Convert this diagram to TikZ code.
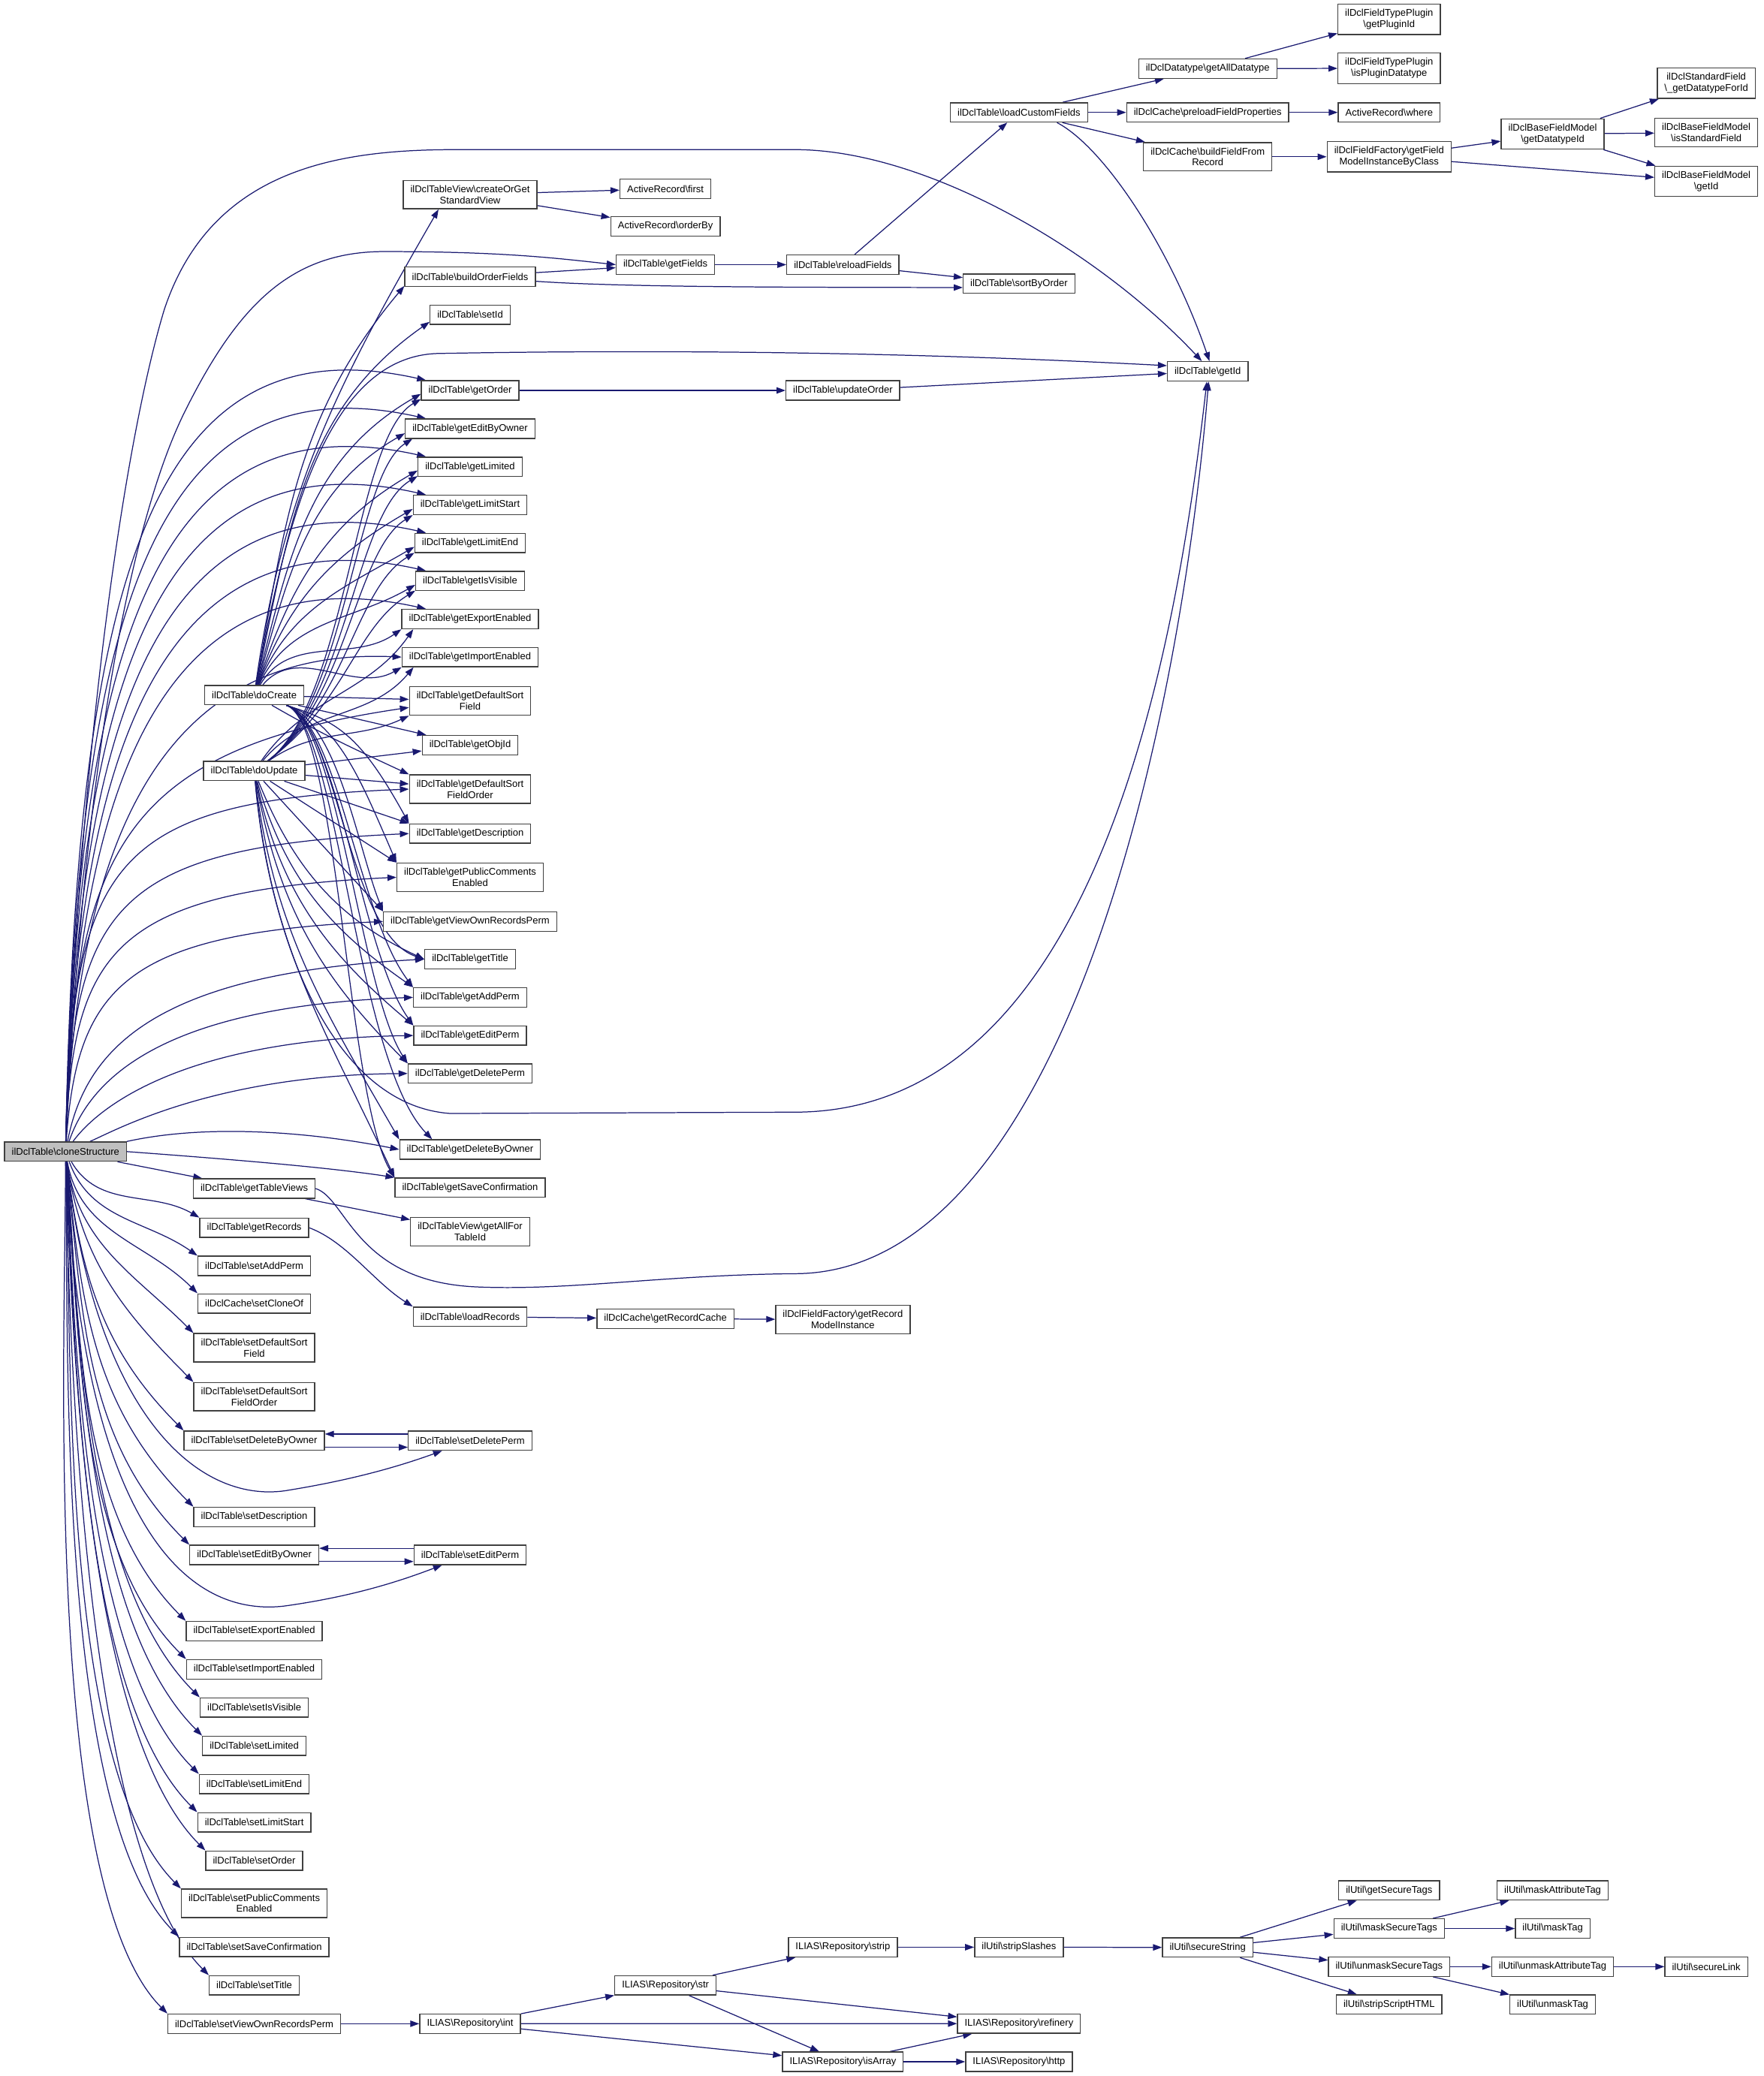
\documentclass[tikz,border=0pt]{standalone}
\usepackage{fontspec}
\setmainfont{Liberation Sans}
\usepackage{tikz}
\usetikzlibrary{arrows.meta, backgrounds}
\definecolor{edgeblue}{RGB}{25,25,112}
\definecolor{rootgray}{RGB}{191,191,191}
\newcommand{\bsl}{\textbackslash}

\begin{document}
\begin{tikzpicture}[
    x=0.05cm, y=-0.05cm,  % one unit = one pixel of the graph, y runs down
    >={Triangle[length=0.34cm, width=0.24cm]},
    func/.style={
      draw=black!75,
      fill=white,
      line width=1.1pt,
      align=center,
      font=\fontsize{10.5}{12}\selectfont,
      inner xsep=0.27cm,
      inner ysep=0.19cm,
      minimum height=0.73cm
    },
    root/.style={func, fill=rootgray},
    call/.style={->, draw=edgeblue, line width=1pt}
]
\useasboundingbox (0,0) rectangle (1332,1568);

\node[root] (clone) at (49.5,869.8) {ilDclTable\bsl cloneStructure};

% second column
\node[func] (doCreate) at (192,525) {ilDclTable\bsl doCreate};
\node[func] (doUpdate) at (192,582.3) {ilDclTable\bsl doUpdate};
\node[func] (getTableViews) at (192,897.7) {ilDclTable\bsl getTableViews};
\node[func] (getRecords) at (192,927.3) {ilDclTable\bsl getRecords};
\node[func] (setAddPerm) at (192,956.1) {ilDclTable\bsl setAddPerm};
\node[func] (setCloneOf) at (192,984.5) {ilDclCache\bsl setCloneOf};
\node[func] (setSortField) at (192,1017.9) {ilDclTable\bsl setDefaultSort\\Field};
\node[func] (setSortOrder) at (192,1054.9) {ilDclTable\bsl setDefaultSort\\FieldOrder};
\node[func] (setDeleteByOwner) at (192,1088.1) {ilDclTable\bsl setDeleteByOwner};
\node[func] (setDescr) at (192,1145.7) {ilDclTable\bsl setDescription};
\node[func] (setEditByOwner) at (192,1174.4) {ilDclTable\bsl setEditByOwner};
\node[func] (setExport) at (192,1231.9) {ilDclTable\bsl setExportEnabled};
\node[func] (setImport) at (192,1260.8) {ilDclTable\bsl setImportEnabled};
\node[func] (setIsVisible) at (192,1289.7) {ilDclTable\bsl setIsVisible};
\node[func] (setLimited) at (192,1318.6) {ilDclTable\bsl setLimited};
\node[func] (setLimitEnd) at (192,1347.5) {ilDclTable\bsl setLimitEnd};
\node[func] (setLimitStart) at (192,1376.4) {ilDclTable\bsl setLimitStart};
\node[func] (setOrder) at (192,1405.3) {ilDclTable\bsl setOrder};
\node[func] (setComments) at (192,1437.5) {ilDclTable\bsl setPublicComments\\Enabled};
\node[func] (setSaveConf) at (192,1470.5) {ilDclTable\bsl setSaveConfirmation};
\node[func] (setTitle) at (192,1499.5) {ilDclTable\bsl setTitle};
\node[func] (setViewPerm) at (192,1528.5) {ilDclTable\bsl setViewOwnRecordsPerm};

% third column
\node[func] (createView) at (355,147) {ilDclTableView\bsl createOrGet\\StandardView};
\node[func] (buildOrder) at (355,209) {ilDclTable\bsl buildOrderFields};
\node[func] (setId) at (355,237.7) {ilDclTable\bsl setId};
\node[func] (getOrder) at (355,294.9) {ilDclTable\bsl getOrder};
\node[func] (getEditByOwner) at (355,323.8) {ilDclTable\bsl getEditByOwner};
\node[func] (getLimited) at (355,352.6) {ilDclTable\bsl getLimited};
\node[func] (getLimitStart) at (355,381.4) {ilDclTable\bsl getLimitStart};
\node[func] (getLimitEnd) at (355,410.1) {ilDclTable\bsl getLimitEnd};
\node[func] (getIsVisible) at (355,438.8) {ilDclTable\bsl getIsVisible};
\node[func] (getExport) at (355,467.6) {ilDclTable\bsl getExportEnabled};
\node[func] (getImport) at (355,496.3) {ilDclTable\bsl getImportEnabled};
\node[func] (getSortField) at (355,529.5) {ilDclTable\bsl getDefaultSort\\Field};
\node[func] (getObjId) at (355,562.8) {ilDclTable\bsl getObjId};
\node[func] (getSortOrder) at (355,596) {ilDclTable\bsl getDefaultSort\\FieldOrder};
\node[func] (getDescr) at (355,629.6) {ilDclTable\bsl getDescription};
\node[func] (getComments) at (355,662.6) {ilDclTable\bsl getPublicComments\\Enabled};
\node[func] (getViewPerm) at (355,696) {ilDclTable\bsl getViewOwnRecordsPerm};
\node[func] (getTitle) at (355,724.5) {ilDclTable\bsl getTitle};
\node[func] (getAddPerm) at (355,753.3) {ilDclTable\bsl getAddPerm};
\node[func] (getEditPerm) at (355,782.1) {ilDclTable\bsl getEditPerm};
\node[func] (getDeletePerm) at (355,810.8) {ilDclTable\bsl getDeletePerm};
\node[func] (getDeleteByOwner) at (355,868.2) {ilDclTable\bsl getDeleteByOwner};
\node[func] (getSaveConf) at (355,897) {ilDclTable\bsl getSaveConfirmation};
\node[func] (getAllFor) at (355,930.2) {ilDclTableView\bsl getAllFor\\TableId};
\node[func] (loadRecords) at (355,994.5) {ilDclTable\bsl loadRecords};
\node[func] (setDeletePerm) at (355,1088.1) {ilDclTable\bsl setDeletePerm};
\node[func] (setEditPerm) at (355,1174.4) {ilDclTable\bsl setEditPerm};
\node[func] (repoInt) at (355,1528.5) {ILIAS\bsl Repository\bsl int};

% further columns
\node[func] (arFirst) at (502.5,142.6) {ActiveRecord\bsl first};
\node[func] (arOrderBy) at (502.5,171) {ActiveRecord\bsl orderBy};
\node[func] (getFields) at (502.5,199.9) {ilDclTable\bsl getFields};
\node[func] (getRecordCache) at (502.5,996) {ilDclCache\bsl getRecordCache};
\node[func] (repoStr) at (502.5,1499.5) {ILIAS\bsl Repository\bsl str};

\node[func] (reloadFields) at (636.5,199.9) {ilDclTable\bsl reloadFields};
\node[func] (updateOrder) at (636.5,294.9) {ilDclTable\bsl updateOrder};
\node[func] (getRecordModel) at (636.5,996.7) {ilDclFieldFactory\bsl getRecord\\ModelInstance};
\node[func] (repoStrip) at (636.5,1470.7) {ILIAS\bsl Repository\bsl strip};
\node[func] (repoIsArray) at (636.5,1557.2) {ILIAS\bsl Repository\bsl isArray};

\node[func] (loadCustom) at (769.5,84.9) {ilDclTable\bsl loadCustomFields};
\node[func] (sortByOrder) at (769.5,214.2) {ilDclTable\bsl sortByOrder};
\node[func] (stripSlashes) at (769.5,1470.7) {ilUtil\bsl stripSlashes};
\node[func] (repoRefinery) at (769.5,1528.4) {ILIAS\bsl Repository\bsl refinery};
\node[func] (repoHttp) at (769.5,1557.2) {ILIAS\bsl Repository\bsl http};

\node[func] (getAllDatatype) at (912,51.8) {ilDclDatatype\bsl getAllDatatype};
\node[func] (preloadProps) at (912,84.9) {ilDclCache\bsl preloadFieldProperties};
\node[func] (buildField) at (912,118.4) {ilDclCache\bsl buildFieldFrom\\Record};
\node[func] (getId) at (912,280.5) {ilDclTable\bsl getId};
\node[func] (secureString) at (912,1470.9) {ilUtil\bsl secureString};

\node[func] (getPluginId) at (1049,14.6) {ilDclFieldTypePlugin\\\bsl getPluginId};
\node[func] (isPluginDatatype) at (1049,51.6) {ilDclFieldTypePlugin\\\bsl isPluginDatatype};
\node[func] (arWhere) at (1049,84.9) {ActiveRecord\bsl where};
\node[func] (getFieldModel) at (1049,118.4) {ilDclFieldFactory\bsl getField\\ModelInstanceByClass};
\node[func] (getSecureTags) at (1049,1427.8) {ilUtil\bsl getSecureTags};
\node[func] (maskSecureTags) at (1049,1456.6) {ilUtil\bsl maskSecureTags};
\node[func] (unmaskSecureTags) at (1049,1485.4) {ilUtil\bsl unmaskSecureTags};
\node[func] (stripScriptHTML) at (1049,1514) {ilUtil\bsl stripScriptHTML};

\node[func] (getDatatypeId) at (1172.5,101.2) {ilDclBaseFieldModel\\\bsl getDatatypeId};
\node[func] (maskAttributeTag) at (1172.5,1427.8) {ilUtil\bsl maskAttributeTag};
\node[func] (maskTag) at (1172.5,1456.6) {ilUtil\bsl maskTag};
\node[func] (unmaskAttributeTag) at (1172.5,1485.4) {ilUtil\bsl unmaskAttributeTag};
\node[func] (unmaskTag) at (1172.5,1514) {ilUtil\bsl unmaskTag};

\node[func] (getDatatypeForId) at (1288.5,62.9) {ilDclStandardField\\\bsl\_getDatatypeForId};
\node[func] (isStandardField) at (1288.5,100.2) {ilDclBaseFieldModel\\\bsl isStandardField};
\node[func] (baseGetId) at (1288.5,137) {ilDclBaseFieldModel\\\bsl getId};
\node[func] (secureLink) at (1288.5,1485.4) {ilUtil\bsl secureLink};

\begin{scope}[on background layer]
% calls made by cloneStructure
\draw[call] (clone) .. controls (60,560) and (95,330) .. (124,234) .. controls (160,125) and (260,113) .. (345,113) -- (600,113) .. controls (700,113) and (830,190) .. (getId.120);
\draw[call] (clone) .. controls (62,600) and (95,400) .. (140,310) .. controls (180,230) and (220,190) .. (290,190) .. controls (380,190) and (420,195) .. (getFields.west);
\draw[call] (clone) .. controls (58,445) and (110,240) .. (getOrder.167);
\draw[call] (clone) .. controls (58,474) and (110,269) .. (getEditByOwner.167);
\draw[call] (clone) .. controls (58,503) and (110,298) .. (getLimited.167);
\draw[call] (clone) .. controls (58,531) and (110,326) .. (getLimitStart.167);
\draw[call] (clone) .. controls (58,560) and (110,355) .. (getLimitEnd.167);
\draw[call] (clone) .. controls (58,589) and (110,384) .. (getIsVisible.167);
\draw[call] (clone) .. controls (58,618) and (110,413) .. (getExport.167);
\draw[call] (clone) .. controls (58,646) and (115,488) .. (getImport.west);
\draw[call] (clone) .. controls (55,640) and (95,566) .. (getSortField.186);
\draw[call] (clone) .. controls (55,650) and (85,605) .. (getSortOrder.west);
\draw[call] (clone) .. controls (55,685) and (85,640) .. (getDescr.west);
\draw[call] (clone) .. controls (55,718) and (85,673) .. (getComments.west);
\draw[call] (clone) .. controls (58,745) and (95,705) .. (getViewPerm.west);
\draw[call] (clone) .. controls (65,790) and (120,735) .. (getTitle.west);
\draw[call] (clone) .. controls (70,810) and (130,760) .. (getAddPerm.west);
\draw[call] (clone) .. controls (75,835) and (140,785) .. (getEditPerm.west);
\draw[call] (clone) .. controls (85,855) and (160,812) .. (getDeletePerm.west);
\draw[call] (clone.north east) .. controls (160,848) and (240,856) .. (getDeleteByOwner.west);
\draw[call] (clone.east) .. controls (180,876) and (250,882) .. (getSaveConf.north west);
\draw[call] (clone) -- (getTableViews);
\draw[call] (clone) to[out=-60, in=150] (getRecords.north west);
\draw[call] (clone) to[out=-70, in=145] (setAddPerm.north west);
\draw[call] (clone) to[out=-80, in=135] (setCloneOf.north west);
\draw[call] (clone) to[out=-82, in=135] (setSortField.north west);
\draw[call] (clone) to[out=-82, in=135] (setSortOrder.north west);
\draw[call] (clone) to[out=-83, in=135] (setDeleteByOwner.north west);
\draw[call] (clone) to[out=-84, in=135] (setDescr.north west);
\draw[call] (clone) to[out=-84, in=135, looseness=0.95] (setEditByOwner.north west);
\draw[call] (clone) to[out=-85, in=135, looseness=0.85] (setExport.north west);
\draw[call] (clone) to[out=-85, in=135, looseness=0.8] (setImport.north west);
\draw[call] (clone) to[out=-86, in=135, looseness=0.75] (setIsVisible.north west);
\draw[call] (clone) to[out=-86, in=135, looseness=0.72] (setLimited.north west);
\draw[call] (clone) to[out=-87, in=135, looseness=0.68] (setLimitEnd.north west);
\draw[call] (clone) to[out=-87, in=135, looseness=0.65] (setLimitStart.north west);
\draw[call] (clone) to[out=-88, in=135, looseness=0.62] (setOrder.north west);
\draw[call] (clone) to[out=-88, in=135, looseness=0.6] (setComments.north west);
\draw[call] (clone) to[out=-89, in=135, looseness=0.57] (setSaveConf.north west);
\draw[call] (clone) to[out=-89, in=135, looseness=0.55] (setTitle.north west);
\draw[call] (clone) to[out=-90, in=135, looseness=0.53] (setViewPerm.north west);
\draw[call] (clone) .. controls (72,1070) and (150,1135) .. (215,1126) .. controls (265,1118) and (300,1108) .. (setDeletePerm.-160);
\draw[call] (clone) .. controls (62,1150) and (140,1222) .. (215,1213) .. controls (265,1206) and (300,1195) .. (setEditPerm.-160);

% doCreate
\draw[call] (doCreate) to[out=82, in=240] (createView.-155);
\draw[call] (doCreate) to[out=80, in=230] (buildOrder.188);
\draw[call] (doCreate) to[out=78, in=215] (setId.190);
\draw[call] (doCreate) to[out=76, in=210] (getOrder.184);
\draw[call] (doCreate) to[out=74, in=210] (getEditByOwner.184);
\draw[call] (doCreate) to[out=72, in=210] (getLimited.184);
\draw[call] (doCreate) to[out=70, in=210] (getLimitStart.184);
\draw[call] (doCreate) to[out=68, in=210] (getLimitEnd.184);
\draw[call] (doCreate) to[out=65, in=210] (getIsVisible.184);
\draw[call] (doCreate) to[out=60, in=215] (getExport.south west);
\draw[call] (doCreate) to[out=50, in=210] (getImport.south west);
\draw[call] (doCreate) -- (getSortField);
\draw[call] (doCreate) -- (getObjId);
\draw[call] (doCreate) to[out=-30, in=155] (getSortOrder.north west);
\draw[call] (doCreate) .. controls (255,545) and (272,555) .. (getDescr.north west);
\draw[call] (doCreate) .. controls (255,545) and (272,588) .. (getComments.north west);
\draw[call] (doCreate) .. controls (255,545) and (270,640) .. (getViewPerm.north west);
\draw[call] (doCreate) .. controls (255,545) and (262,705) .. (getTitle.west);
\draw[call] (doCreate) .. controls (255,545) and (270,690) .. (getAddPerm.north west);
\draw[call] (doCreate) .. controls (255,545) and (272,718) .. (getEditPerm.north west);
\draw[call] (doCreate) .. controls (255,545) and (272,748) .. (getDeletePerm.north west);
\draw[call] (doCreate) .. controls (255,545) and (268,800) .. (getDeleteByOwner.165);
\draw[call] (doCreate) .. controls (255,545) and (262,830) .. (getSaveConf.north west);
\draw[call] (doCreate) .. controls (215,400) and (245,270) .. (330,267) .. controls (600,262) and (800,272) .. (getId.172);

% doUpdate
\draw[call] (doUpdate) .. controls (262,530) and (268,330) .. (getOrder.190);
\draw[call] (doUpdate) .. controls (262,530) and (268,359) .. (getEditByOwner.190);
\draw[call] (doUpdate) .. controls (262,530) and (268,388) .. (getLimited.190);
\draw[call] (doUpdate) .. controls (262,530) and (268,416) .. (getLimitStart.190);
\draw[call] (doUpdate) .. controls (262,530) and (268,445) .. (getLimitEnd.190);
\draw[call] (doUpdate) .. controls (262,530) and (268,474) .. (getIsVisible.190);
\draw[call] (doUpdate) to[out=55, in=235] ([xshift=0.45cm]getExport.south west);
\draw[call] (doUpdate) to[out=50, in=230] ([xshift=0.45cm]getImport.south west);
\draw[call] (doUpdate) to[out=35, in=205] (getSortField.south west);
\draw[call] (doUpdate) -- (getObjId);
\draw[call] (doUpdate) -- (getSortOrder);
\draw[call] (doUpdate) -- (getDescr.north west);
\draw[call] (doUpdate) -- (getComments.north west);
\draw[call] (doUpdate) -- (getViewPerm.north west);
\draw[call] (doUpdate) to[out=-68, in=155] (getTitle.west);
\draw[call] (doUpdate) to[out=-74, in=145] (getAddPerm.north west);
\draw[call] (doUpdate) to[out=-78, in=140] (getEditPerm.north west);
\draw[call] (doUpdate) to[out=-80, in=135] (getDeletePerm.north west);
\draw[call] (doUpdate) to[out=-83, in=120] (getDeleteByOwner.north west);
\draw[call] (doUpdate) to[out=-85, in=115] (getSaveConf.north west);
\draw[call] (doUpdate) .. controls (205,720) and (255,835) .. (340,841) -- (600,840) .. controls (820,840) and (885,520) .. (getId.-95);

% remaining calls
\draw[call] (createView) -- (arFirst);
\draw[call] (createView) -- (arOrderBy);
\draw[call] (buildOrder) -- (getFields);
\draw[call] (buildOrder) .. controls (470,217) and (600,217) .. (sortByOrder.184);
\draw[call] (getFields) -- (reloadFields);
\draw[call] (reloadFields) -- (sortByOrder);
\draw[call] (reloadFields) -- (loadCustom);
\draw[call] (loadCustom) -- (getAllDatatype);
\draw[call] (loadCustom) -- (preloadProps);
\draw[call] (loadCustom) -- (buildField);
\draw[call] (loadCustom.-15) .. controls (835,112) and (885,190) .. (getId.80);
\draw[call] (getAllDatatype) -- (getPluginId);
\draw[call] (getAllDatatype) -- (isPluginDatatype);
\draw[call] (preloadProps) -- (arWhere);
\draw[call] (buildField) -- (getFieldModel);
\draw[call] (getFieldModel) -- (getDatatypeId);
\draw[call] (getFieldModel) -- (baseGetId);
\draw[call] (getDatatypeId) -- (getDatatypeForId);
\draw[call] (getDatatypeId) -- (isStandardField);
\draw[call] (getDatatypeId) -- (baseGetId);
\draw[call] (getOrder) -- (updateOrder);
\draw[call] (updateOrder) -- (getId);
\draw[call] (getTableViews) -- (getAllFor);
\draw[call] (getTableViews.east) .. controls (262,905) and (268,968) .. (360,972) .. controls (430,975) and (500,963) .. (600,962) .. controls (800,962) and (890,560) .. (getId.-85);
\draw[call] (getRecords.east) .. controls (262,938) and (282,968) .. (loadRecords.north west);
\draw[call] (loadRecords) -- (getRecordCache);
\draw[call] (getRecordCache) -- (getRecordModel);
\draw[call] ([yshift=0.25cm]setDeletePerm.west) -- ([yshift=0.25cm]setDeleteByOwner.east);
\draw[call] ([yshift=-0.25cm]setDeleteByOwner.east) -- ([yshift=-0.25cm]setDeletePerm.west);
\draw[call] ([yshift=0.25cm]setEditPerm.west) -- ([yshift=0.25cm]setEditByOwner.east);
\draw[call] ([yshift=-0.25cm]setEditByOwner.east) -- ([yshift=-0.25cm]setEditPerm.west);
\draw[call] (setViewPerm) -- (repoInt);
\draw[call] (repoInt) -- (repoStr);
\draw[call] (repoInt) -- (repoRefinery);
\draw[call] (repoInt) -- (repoIsArray);
\draw[call] (repoStr) -- (repoStrip);
\draw[call] (repoStr) -- (repoRefinery);
\draw[call] (repoStr) -- (repoIsArray);
\draw[call] (repoStrip) -- (stripSlashes);
\draw[call] (stripSlashes) -- (secureString);
\draw[call] (repoIsArray) -- (repoRefinery);
\draw[call] (repoIsArray) -- (repoHttp);
\draw[call] (secureString) -- (getSecureTags);
\draw[call] (secureString) -- (maskSecureTags);
\draw[call] (secureString) -- (unmaskSecureTags);
\draw[call] (secureString) -- (stripScriptHTML);
\draw[call] (maskSecureTags) -- (maskAttributeTag);
\draw[call] (maskSecureTags) -- (maskTag);
\draw[call] (unmaskSecureTags) -- (unmaskAttributeTag);
\draw[call] (unmaskSecureTags) -- (unmaskTag);
\draw[call] (unmaskAttributeTag) -- (secureLink);
\end{scope}
\end{tikzpicture}
\end{document}
